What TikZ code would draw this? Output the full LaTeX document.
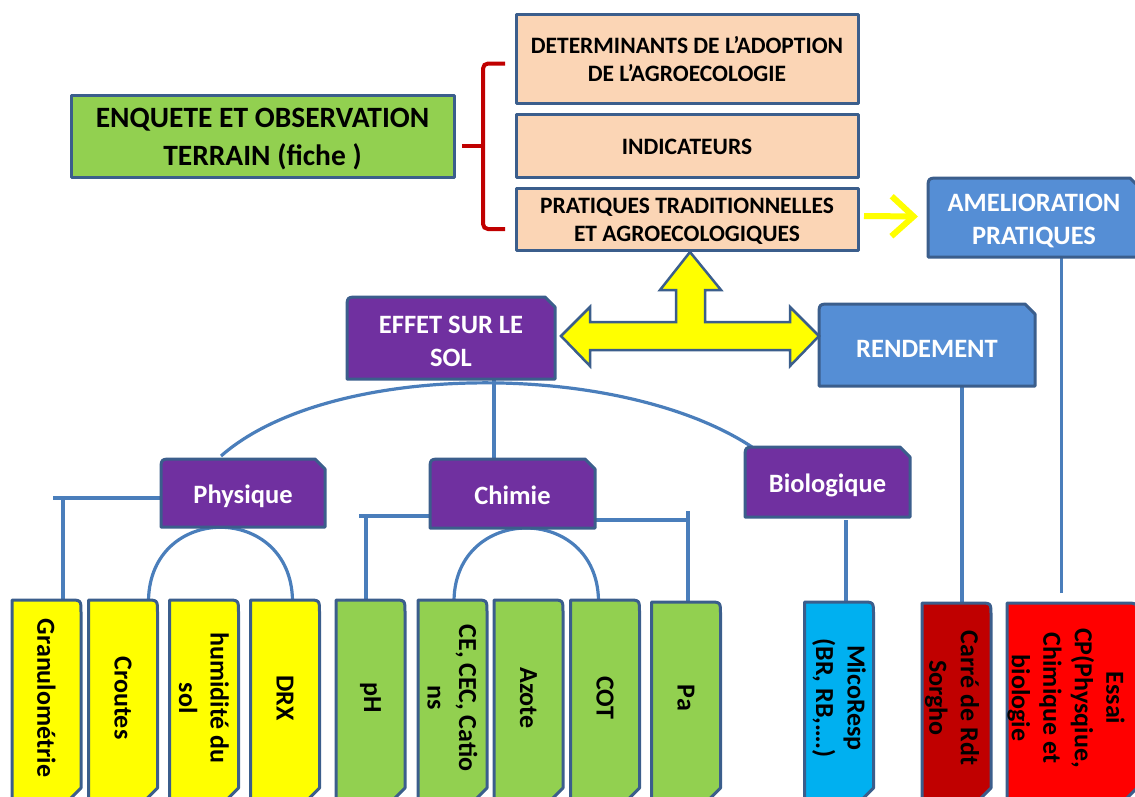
\documentclass[tikz,border=0pt]{standalone}
\usepackage{fontspec}
\setmainfont{Carlito}
\usetikzlibrary{arrows.meta,calc}
\definecolor{edgeblue}{HTML}{3B5E8C}
\definecolor{connblue}{HTML}{4A7EBB}
\definecolor{peach}{HTML}{FBD5B5}
\definecolor{lgreen}{HTML}{92D050}
\definecolor{purp}{HTML}{7030A0}
\definecolor{sky}{HTML}{558ED5}
\definecolor{cyanb}{HTML}{00B0F0}
\definecolor{dred}{HTML}{C00000}
\definecolor{bred}{HTML}{FF0000}
\definecolor{yel}{HTML}{FFFF00}
\pgfdeclarelayer{lines}
\pgfdeclarelayer{shapes}
\pgfsetlayers{lines,shapes,main}
% top-left rounded, top-right snipped
\newcommand{\shapeTL}[2]{\filldraw[edge,fill=#2] (#1.south west) -- ([yshift=-12pt]#1.north west) .. controls (#1.north west) .. ([xshift=12pt]#1.north west) -- ([xshift=-10pt]#1.north east) -- ([yshift=-10pt]#1.north east) -- (#1.south east) -- cycle;}
% top-right rounded, bottom-right snipped
\newcommand{\shapeV}[2]{\filldraw[edge,fill=#2] (#1.north west) -- ([xshift=-12pt]#1.north east) .. controls (#1.north east) .. ([yshift=-12pt]#1.north east) -- ([yshift=12pt]#1.south east) -- ([xshift=-12pt]#1.south east) -- (#1.south west) -- cycle;}
\begin{document}
\begin{tikzpicture}[x=1pt,y=-1pt,
 box/.style={rectangle, inner sep=0pt, outer sep=0pt, align=center},
 edge/.style={draw=edgeblue, line width=3pt, line join=round},
 conn/.style={draw=connblue, line width=3.2pt},
 ftop/.style={font={\fontsize{23.5}{28.5}\selectfont\bfseries}, align=center},
 fmid/.style={font={\fontsize{26.5}{32.5}\selectfont\bfseries}, text=white, align=center},
 fbot/.style={font={\fontsize{26}{31.5}\selectfont\bfseries}, rotate=-90, align=center, inner sep=0pt},
 bbox/.style={box, minimum width=69pt, minimum height=200pt},
]
\useasboundingbox (0,0) rectangle (1135,796);

% top part: boxes
\node[box, minimum width=383pt, minimum height=82pt] (enq) at (262.5,136) {};
\node[box, minimum width=342pt, minimum height=89pt] (b1) at (687,58.5) {};
\node[box, minimum width=342pt, minimum height=63pt] (b2) at (687,145.5) {};
\node[box, minimum width=342pt, minimum height=62pt] (b3) at (687,219) {};
\node[box, minimum width=212pt, minimum height=79pt] (ameli) at (1034,217.5) {};
\node[box, minimum width=216pt, minimum height=82pt] (rend) at (927,345) {};
\node[box, minimum width=208pt, minimum height=82pt] (effet) at (451,338) {};
\node[box, minimum width=164pt, minimum height=68pt] (phys) at (243,493) {};
\node[box, minimum width=165pt, minimum height=69pt] (chim) at (512.5,493.5) {};
\node[box, minimum width=165pt, minimum height=70pt] (bio) at (827.5,482) {};

% top part: texts
\node[font={\fontsize{29.5}{38}\selectfont\bfseries}, align=center] (enqT) at ($(enq.center)+(0,3.5)$) {ENQUETE ET OBSERVATION\\TERRAIN (fiche )};
\node[ftop] (b1T) at ($(b1.center)+(0,0.5)$) {DETERMINANTS DE L’ADOPTION\\DE L’AGROECOLOGIE};
\node[ftop] (b2T) at ($(b2.center)+(0,1)$) {INDICATEURS};
\node[ftop] (b3T) at ($(b3.center)+(0,2.5)$) {PRATIQUES TRADITIONNELLES\\ET AGROECOLOGIQUES};
\node[fmid] (ameliT) at ($(ameli.center)+(0,3.5)$) {AMELIORATION\\PRATIQUES};
\node[fmid] (rendT) at ($(rend.center)+(0,3.5)$) {RENDEMENT};
\node[fmid] (effetT) at ($(effet.center)+(0,3.5)$) {EFFET SUR LE\\SOL};
\node[fmid] (physT) at ($(phys.center)+(0,3.5)$) {Physique};
\node[fmid] (chimT) at ($(chim.center)+(0,2)$) {Chimie};
\node[fmid] (bioT) at ($(bio.center)+(0,3.5)$) {Biologique};

% bottom boxes
\node[bbox] (gran) at (46.5,700) {};
\node[bbox] (crou) at (123,700) {};
\node[bbox] (humi) at (204,700) {};
\node[bbox] (drx) at (285,700) {};
\node[bbox] (ph) at (370.5,700) {};
\node[bbox] (ce) at (452.5,700) {};
\node[bbox] (azote) at (528.5,700) {};
\node[bbox] (cot) at (605,700) {};
\node[bbox, minimum height=198pt] (pa) at (686,701) {};
\node[bbox, minimum height=198pt] (mico) at (839,701) {};
\node[bbox, minimum height=197pt] (carre) at (956.5,701.5) {};
\node[bbox, minimum height=197pt, minimum width=130pt] (essai) at (1072,701.5) {};

\node[fbot] (granT) at (46.5,698) {Granulométrie};
\node[fbot] (crouT) at (123,698) {Croutes};
\node[fbot] (humiT) at (204,698) {humidité du\\sol};
\node[fbot] (drxT) at (285,698) {DRX};
\node[fbot] (phT) at (370.5,698) {pH};
\node[fbot] (ceT) at (452.5,698) {CE, CEC, Catio\\ns};
\node[fbot] (azoteT) at (528.5,698) {Azote};
\node[fbot] (cotT) at (605,698) {COT};
\node[fbot] (paT) at (686,698) {Pa};
\node[fbot] (micoT) at (839,698) {MicoResp\\(BR, RB,….)};
\node[fbot] (carreT) at (952,698) {Carré de Rdt\\Sorgho};
\node[fbot] (essaiT) at (1066,698) {Essai\\CP(Physqiue,\\Chimique et\\biologie};

\begin{pgfonlayer}{shapes}
\filldraw[edge, fill=lgreen] (enq.north west) rectangle (enq.south east);
\filldraw[edge, fill=peach] (b1.north west) rectangle (b1.south east);
\filldraw[edge, fill=peach] (b2.north west) rectangle (b2.south east);
\filldraw[edge, fill=peach] (b3.north west) rectangle (b3.south east);
\shapeTL{ameli}{sky}
\shapeTL{rend}{sky}
\shapeTL{effet}{purp}
\shapeTL{phys}{purp}
\shapeTL{chim}{purp}
\shapeTL{bio}{purp}
\shapeV{gran}{yel}
\shapeV{crou}{yel}
\shapeV{humi}{yel}
\shapeV{drx}{yel}
\shapeV{ph}{lgreen}
\shapeV{ce}{lgreen}
\shapeV{azote}{lgreen}
\shapeV{cot}{lgreen}
\shapeV{pa}{lgreen}
\shapeV{mico}{cyanb}
\shapeV{carre}{dred}
\shapeV{essai}{bred}
\end{pgfonlayer}

% connectors
\begin{pgfonlayer}{lines}
\draw[conn] ($(phys.west)+(0,5)$) -- ($(phys.west)+(-108,5)$);
\draw[conn] ($(gran.north)+(16.5,0)$) -- ++(0,-102);
\draw[conn] ($(crou.north east)+(-9,0)$) .. controls +(2,-97) and +(-2,-97) .. ($(drx.north west)+(42,0)$);
\draw[conn] ($(phys.north)+(-22,-3)$) .. controls +(109,-96) and +(-132,-87) .. ($(bio.north west)+(7,0)$);
\draw[conn] ($(chim.north west)+(64,0)$) -- ($(effet.south east)+(-61,0)$ |- effet.south);
\draw[conn] ($(chim.west)+(0,22.5)$) -- ++(-71,0);
\draw[conn] ($(ph.north)+(-4.5,0)$) -- ++(0,-84);
\draw[conn] ($(chim.east)+(0,26.5)$) -- ++(93,0);
\draw[conn] ($(pa.north)+(2,0)$) -- ++(0,-91);
\draw[conn] ($(ce.north)+(1.5,0)$) .. controls +(2,-96) and +(-2,-96) .. ($(cot.north west)+(28,0)$);
\draw[conn] ($(mico.north)+(7,0)$) -- ++(0,-82);
\draw[conn] ($(carre.north)+(5.5,0)$) -- ($(rend.south)+(35,0)$);
\draw[conn] ($(essai.north)+(-10.5,-10)$) -- ($(ameli.south)+(27.5,0)$);
\end{pgfonlayer}

% red brace
\draw[dred, line width=4pt, rounded corners=5pt] ($(b1.west)+(-11,5)$) -- ($(b1.west)+(-33,5)$) -- ($(b3.west)+(-33,10)$) -- ($(b3.west)+(-11,10)$);
\draw[dred, line width=4pt] ($(enq.east)+(8,10)$) -- ($(enq.east)+(29,10)$);

% yellow small arrow
\draw[yel, line width=6pt, -{Straight Barb[length=22pt,width=40pt,line width=6pt]}] ($(b3.east)+(6,-3)$) -- ($(ameli.west)+(-10,-1)$);

% big yellow arrow
\filldraw[fill=yel, draw=edgeblue, line width=2.5pt, line join=miter]
 (561,336) -- (590,307) -- (590,322) -- (676,322) -- (676,290) -- (660,290) -- (690,252)
 -- (721,290) -- (705,290) -- (705,322) -- (790,322) -- (790,307) -- (819,336)
 -- (790,366) -- (790,350) -- (590,350) -- (590,366) -- cycle;
\end{tikzpicture}
\end{document}
